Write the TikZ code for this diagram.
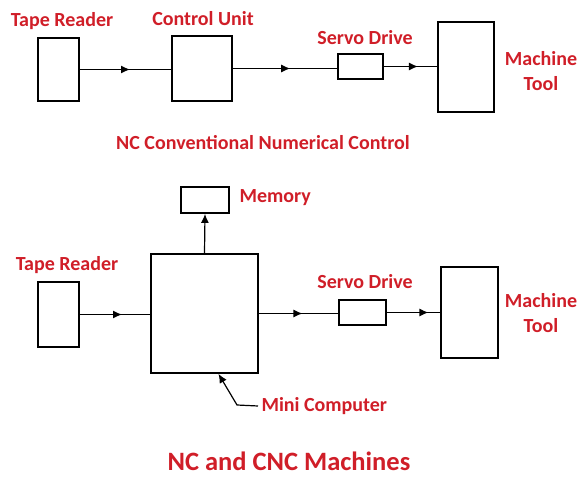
\documentclass[tikz,border=0pt]{standalone}
\usepackage{fontspec}
\setmainfont{Carlito}
\usetikzlibrary{arrows.meta,decorations.markings}

\definecolor{labelred}{RGB}{208,30,40}

\tikzset{
  blk/.style={draw,shape=rectangle,line width=1.8pt,inner sep=0pt},
  lbl/.style={text=labelred,font=\bfseries\fontsize{20}{25}\selectfont,align=center},
  conn/.style={line width=1.2pt},
  midarrow/.style={postaction={decorate},
    decoration={markings,mark=at position #1 with {\arrow{Latex[length=9pt,width=8pt]}}}}
}

\begin{document}
\begin{tikzpicture}[x=1pt,y=-1pt]
   \useasboundingbox (0,0) rectangle (588,481);

   % conventional NC
   \path (58.5,69.5) node[blk,minimum width=41pt,minimum height=63pt] (TR1) {};
   \path (202,68.5) node[blk,minimum width=60pt,minimum height=65pt] (CU) {};
   \path (360.5,66.5) node[blk,minimum width=45pt,minimum height=25pt] (SD1) {};
   \path (466,67) node[blk,minimum width=56pt,minimum height=90pt] (MT1) {};

   \path (62,21) node[lbl] (TR1n) {Tape Reader};
   \path (203,19) node[lbl] (CUn) {Control Unit};
   \path (365,38) node[lbl] (SD1n) {Servo Drive};
   \path (541,71) node[lbl] (MT1n) {Machine\\Tool};
   \path (263,143) node[lbl] (NCn) {NC Conventional Numerical Control};

   \draw[conn,midarrow=0.55] (TR1.east) -- (TR1.east -| CU.west);
   \draw[conn,midarrow=0.55] (CU.east) -- (CU.east -| SD1.west);
   \draw[conn,midarrow=0.64] (SD1.east) -- (SD1.east -| MT1.west);

   % CNC
   \path (58.5,314.5) node[blk,minimum width=41pt,minimum height=65pt] (TR2) {};
   \path (204.5,313.5) node[blk,minimum width=107pt,minimum height=119pt] (MC) {};
   \path (205,200) node[blk,minimum width=48pt,minimum height=26pt] (MEM) {};
   \path (362.5,312.5) node[blk,minimum width=47pt,minimum height=25pt] (SD2) {};
   \path (469.5,312.5) node[blk,minimum width=57pt,minimum height=91pt] (MT2) {};

   \path (67,265) node[lbl] (TR2n) {Tape Reader};
   \path (236,198) node[lbl,anchor=west] (MEMn) {Memory};
   \path (365,282) node[lbl] (SD2n) {Servo Drive};
   \path (541,313) node[lbl] (MT2n) {Machine\\Tool};
   \path (258,406) node[lbl,anchor=west] (MCn) {Mini Computer};
   \path (289,461) node[lbl,font=\bfseries\fontsize{26.5}{30}\selectfont] (TITLE) {NC and CNC Machines};
   \coordinate (MCbend) at (237,405);

   \draw[conn,midarrow=0.6] (TR2.east) -- (TR2.east -| MC.west);
   \draw[conn,midarrow=0.55] (MC.east) -- (MC.east -| SD2.west);
   \draw[conn,midarrow=0.78] (SD2.east) -- (SD2.east -| MT2.west);
   \draw[conn,-{Latex[length=9pt,width=8pt]}] (MC.north) -- (MEM.south);
   \draw[conn,-{Latex[length=9pt,width=8pt]}] (MCn.west) -- (MCbend) -- ([xshift=14pt]MC.south);
\end{tikzpicture}
\end{document}
